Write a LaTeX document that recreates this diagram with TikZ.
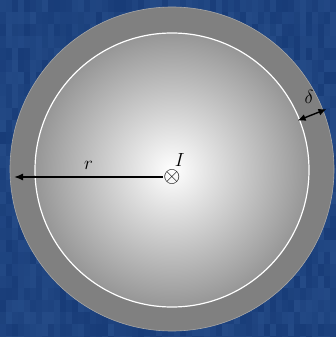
\documentclass[tikz,border=0pt]{standalone}
\usepackage{fix-cm}
\usetikzlibrary{arrows.meta,positioning}
\definecolor{denim}{RGB}{24,60,120}
\definecolor{denimlight}{RGB}{44,84,144}
\definecolor{ringgray}{RGB}{128,128,128}
\definecolor{coregray}{RGB}{150,150,150}
\begin{document}
\begin{tikzpicture}[x=1pt,y=-1pt,
        lbl/.style={font=\fontsize{19}{22}\selectfont, inner sep=0pt},
        dim/.style={line width=1.4pt, -{Latex[length=9pt,width=7pt]}},
        dimboth/.style={line width=1.4pt, {Latex[length=8pt,width=7pt]}-{Latex[length=8pt,width=7pt]}},
    ]
        \useasboundingbox[fill=denim] (0,0) rectangle (336,337);
        % denim weave
        \pgfmathsetseed{7}
        \foreach \i in {0,...,55}
            \foreach \j in {0,...,28} {
                \pgfmathsetmacro{\tone}{int(random(40,100))}
                \fill[denim!\tone!denimlight] (\i*6,\j*12) rectangle ++(6,12);
            }

        % Conductor cross-section
        \coordinate (axis) at (172,170);
        \fill[ringgray, draw=gray!70, line width=0.6pt] (172,169) circle[radius=162];
        \shade[inner color=white, outer color=coregray] (axis) circle[radius=137];
        \draw[white, line width=1.2pt] (axis) circle[radius=137];

        % Current and radius
        \node[lbl, font=\fontsize{22}{24}\selectfont] (cur) at (172,177) {$\otimes$};
        \node[lbl, above right=3pt and -6pt of cur] (curlbl) {$I$};
        \coordinate (rim) at (14,177);
        \draw[dim] (cur.west) -- node[lbl, above=7pt] {$r$} (rim);

        % Skin depth
        \path (axis) ++(-21.5:135) coordinate (din) ++(-21.5:31) coordinate (dout);
        \draw[dimboth] (din) -- (dout);
        \node[lbl] (dlbl) at (309,97) {$\delta$};
    \end{tikzpicture}
\end{document}
